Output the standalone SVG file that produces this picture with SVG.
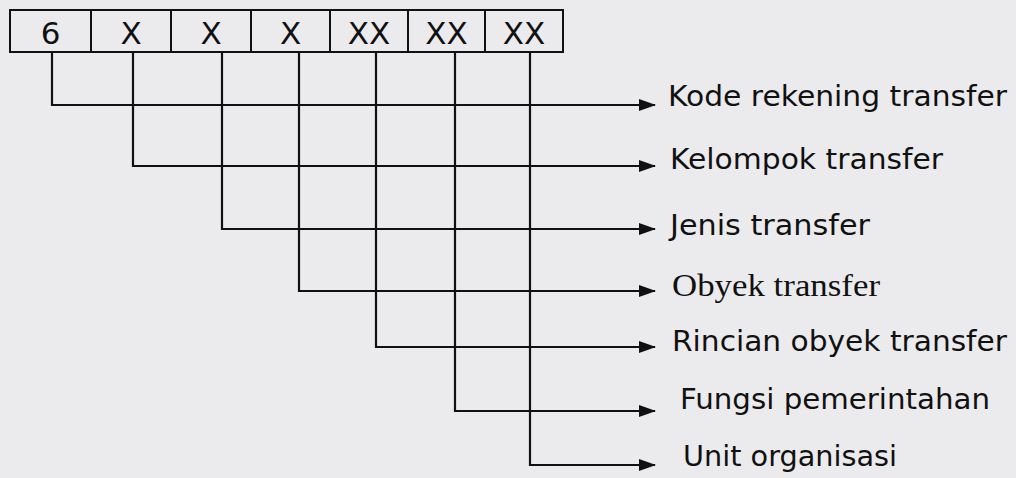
<svg xmlns="http://www.w3.org/2000/svg" width="1016" height="478" viewBox="0 0 1016 478">
<defs>
<marker id="ah" markerUnits="userSpaceOnUse" markerWidth="17" markerHeight="14" refX="16" refY="7" orient="auto">
<path d="M0,1 L17,7 L0,13 z" fill="#111"/>
</marker>
<style>
.cell{fill:none;stroke:#111;stroke-width:2}
.ct{font-family:"DejaVu Sans","Verdana",sans-serif;font-size:31px;fill:#111;text-anchor:middle}
.lb{font-family:"DejaVu Sans","Verdana",sans-serif;font-size:27.5px;fill:#111}
.lbs{font-family:"Liberation Serif","Times New Roman",serif;font-size:31px;fill:#111}
.con{fill:none;stroke:#111;stroke-width:2.2;marker-end:url(#ah)}
</style>
</defs>
<rect width="1016" height="478" fill="#ebebed"/>
<g id="code-box">
<rect class="cell" x="10" y="10" width="553" height="42"/>
<line class="cell" x1="91" y1="10" x2="91" y2="52"/>
<line class="cell" x1="171" y1="10" x2="171" y2="52"/>
<line class="cell" x1="251" y1="10" x2="251" y2="52"/>
<line class="cell" x1="330" y1="10" x2="330" y2="52"/>
<line class="cell" x1="408" y1="10" x2="408" y2="52"/>
<line class="cell" x1="485" y1="10" x2="485" y2="52"/>
<text class="ct" x="50.5" y="44">6</text>
<text class="ct" x="131" y="44">X</text>
<text class="ct" x="211" y="44">X</text>
<text class="ct" x="290.5" y="44">X</text>
<text class="ct" x="369" y="44">XX</text>
<text class="ct" x="446.5" y="44">XX</text>
<text class="ct" x="524" y="44">XX</text>
</g>
<g id="connectors">
<path class="con" d="M52,52 V105 H655"/>
<path class="con" d="M133,52 V166 H655"/>
<path class="con" d="M222,52 V229 H655"/>
<path class="con" d="M299,52 V291 H655"/>
<path class="con" d="M376,52 V347 H655"/>
<path class="con" d="M455,52 V411 H655"/>
<path class="con" d="M530,52 V465 H655"/>
</g>
<g id="label-1"><text class="lb" x="668" y="106" textLength="339" lengthAdjust="spacingAndGlyphs">Kode rekening transfer</text></g>
<g id="label-2"><text class="lb" x="670" y="169" textLength="273" lengthAdjust="spacingAndGlyphs">Kelompok transfer</text></g>
<g id="label-3"><text class="lb" x="670" y="235" textLength="200" lengthAdjust="spacingAndGlyphs">Jenis transfer</text></g>
<g id="label-4"><text class="lbs" x="672" y="296" textLength="208" lengthAdjust="spacingAndGlyphs">Obyek transfer</text></g>
<g id="label-5"><text class="lb" x="672" y="351" textLength="335" lengthAdjust="spacingAndGlyphs">Rincian obyek transfer</text></g>
<g id="label-6"><text class="lb" x="680" y="409" textLength="310" lengthAdjust="spacingAndGlyphs">Fungsi pemerintahan</text></g>
<g id="label-7"><text class="lb" x="683" y="466" textLength="214" lengthAdjust="spacingAndGlyphs">Unit organisasi</text></g>
</svg>
